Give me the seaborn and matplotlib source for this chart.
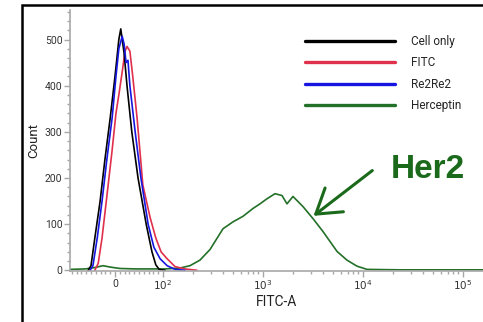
import numpy as np
import pandas as pd
import seaborn as sns
import matplotlib.pyplot as plt
from matplotlib.patches import Rectangle
from matplotlib.lines import Line2D

#%% data (FITC-A value, event count)

samples = ['Cell only', 'FITC', 'Re2Re2', 'Herceptin']
colors = ['#000000', '#e0304c', '#1616e0', '#237028']

cell_x = [-56, -50, -42, -31, -21, -10, 0, 8, 12, 19, 25, 35, 48, 65, 77, 85, 92, 105]
cell_y = [0, 10, 70, 150, 240, 330, 420, 500, 523, 470, 400, 300, 200, 100, 40, 12, 2, 0]

fitc_x = [-42, -35, -27, -17, -6, 2, 8, 15, 21, 25, 31, 37, 46, 58, 73, 85, 96, 110, 132, 166, 219]
fitc_y = [0, 15, 70, 160, 260, 340, 380, 430, 475, 485, 475, 420, 330, 185, 115, 70, 40, 25, 8, 3, 0]

re2_x = [-52, -46, -37, -27, -17, -6, 2, 8, 15, 19, 23, 27, 31, 42, 54, 69, 81, 94, 110, 132, 166]
re2_y = [0, 10, 70, 150, 240, 330, 420, 480, 507, 490, 450, 455, 400, 300, 200, 100, 50, 25, 10, 2, 0]

her_x = [-94, -62, -42, -25, -10, 10, 42, 73, 105, 148, 186, 234, 295, 398, 501, 631, 794,
         933, 1096, 1318, 1549, 1738, 1995, 2512, 3162, 3981, 5495, 6918, 8710, 10965, 23442, 158489]
her_y = [2, 3, 6, 10, 7, 4, 3, 3, 3, 5, 10, 22, 45, 90, 105, 117, 134,
         144, 155, 166, 162, 144, 160, 138, 112, 84, 41, 22, 9, 2, 1, 1]

x_ticks = [0, 100, 1000, 10000, 100000]
x_ticklabels = ['0', '$10^2$', '$10^3$', '$10^4$', '$10^5$']
y_ticks = [0, 100, 200, 300, 400, 500]

df = pd.concat([
    pd.DataFrame({'FITC-A': cell_x, 'Count': cell_y, 'Sample': 'Cell only'}),
    pd.DataFrame({'FITC-A': fitc_x, 'Count': fitc_y, 'Sample': 'FITC'}),
    pd.DataFrame({'FITC-A': re2_x, 'Count': re2_y, 'Sample': 'Re2Re2'}),
    pd.DataFrame({'FITC-A': her_x, 'Count': her_y, 'Sample': 'Herceptin'}),
])
palette = dict(zip(samples, colors))

#%% plot

sns.set_style("ticks")
plt.rcParams['font.family'] = ['Roboto', 'DejaVu Sans']
plt.rcParams['mathtext.fontset'] = 'dejavusans'

fig = plt.figure(figsize=(4.83, 3.22), dpi=100)
ax = fig.add_axes([70/483, 51/322, 413/483, 261/322])

sns.lineplot(data=df, x='FITC-A', y='Count', hue='Sample', hue_order=['Herceptin', 'FITC', 'Cell only', 'Re2Re2'],
             palette=palette, linewidth=1.2, estimator=None, legend=False, ax=ax)

ax.set_xscale('symlog', linthresh=100, linscale=0.432)
ax.set_xlim(-93.75, 158489)
ax.set_ylim(-1.5, 564)

minor_x = [v for v in range(-90, 100, 10) if v != 0]
for dec in [100, 1000, 10000]:
    minor_x += [m * dec for m in range(2, 10)]
ax.set_xticks(x_ticks)
ax.set_xticklabels(x_ticklabels)
ax.set_xticks(minor_x, minor=True)
ax.set_yticks(y_ticks)
ax.set_yticks(np.arange(0, 561, 20), minor=True)

sns.despine(ax=ax)
for s in ['left', 'bottom']:
    ax.spines[s].set_color('#a8a8a8')
    ax.spines[s].set_linewidth(1.2)
ax.tick_params(which='both', direction='out', color='#a8a8a8', labelcolor='#333333',
               labelsize=7.5, pad=1.5, bottom=True, left=True)
ax.tick_params(which='major', length=4, width=1)
ax.tick_params(which='minor', length=2.5, width=1)

ax.set_xlabel('FITC-A', fontsize=10, color='#222222', labelpad=2)
ax.set_ylabel('Count', fontsize=9.5, color='#222222', labelpad=3)

handles = [Line2D([], [], color=c, lw=2.4) for c in colors]
ax.legend(handles, samples, loc='upper left', bbox_to_anchor=(235/413, 1 - 25/261),
          frameon=False, fontsize=8.5, handlelength=7.6, handletextpad=1.4,
          labelspacing=0.72, borderpad=0, borderaxespad=0)

ax.annotate('Her2', xy=(3200, 118), xycoords='data',
            xytext=(428, 322 - 169), textcoords='figure pixels',
            ha='center', va='center', fontsize=24, fontweight='bold',
            color='#1b6a1b', family=['Liberation Sans', 'DejaVu Sans'],
            arrowprops=dict(arrowstyle='->,head_length=0.7,head_width=0.45',
                            color='#1b6a1b', lw=2.2, shrinkA=0, shrinkB=0,
                            relpos=(-0.25, 0.45)))

# black panel frame that runs off the right and bottom edges
fig.add_artist(Rectangle((21.5/483, -0.1), 2, (322 - 5.5)/322 + 0.1, transform=fig.transFigure,
                         fill=False, edgecolor='black', lw=1.8))

fig.savefig('out.png', dpi=100)
